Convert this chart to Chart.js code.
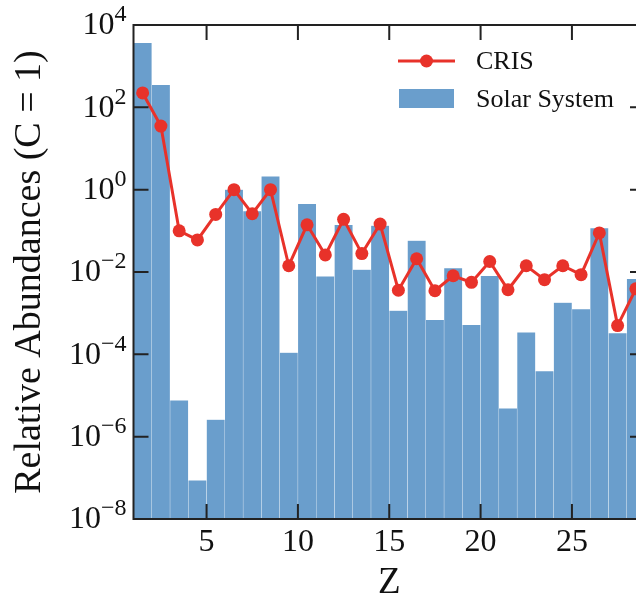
<!DOCTYPE html>
<html>
<head>
<meta charset="utf-8">
<script src="https://cdn.jsdelivr.net/npm/chart.js@4.4.1/dist/chart.umd.min.js"></script>
<style>
    html, body { margin: 0; padding: 0; background: #fff; overflow: hidden; }
    #wrap { width: 660px; height: 598px; }
</style>
</head>
<body>
<div id="wrap"><canvas id="abundChart" width="660" height="598"></canvas></div>
<script>
// atomic number Z of each bin
const charge = [1, 2, 3, 4, 5, 6, 7, 8, 9, 10, 11, 12, 13, 14, 15, 16, 17, 18, 19, 20, 21, 22, 23, 24, 25, 26, 27, 28];
// solar system abundances relative to C
const solar = [3.7e3, 350, 7.6e-6, 8.7e-8, 2.6e-6, 1.0, 0.30, 2.1, 1.1e-4, 0.45,
    7.8e-3, 0.14, 0.0114, 0.135, 1.15e-3, 0.058, 6.9e-4, 0.0125, 5.2e-4, 8.1e-3,
    4.9e-6, 3.4e-4, 3.9e-5, 1.8e-3, 1.26e-3, 0.117, 3.3e-4, 6.8e-3];
// CRIS cosmic ray abundances relative to C
const cris = [224, 35, 0.10, 0.06, 0.25, 1.0, 0.26, 1.0, 0.0142, 0.14,
    0.026, 0.19, 0.028, 0.146, 3.6e-3, 0.021, 3.5e-3, 8.1e-3, 5.6e-3, 0.018,
    3.7e-3, 0.0142, 6.5e-3, 0.0142, 8.6e-3, 0.089, 5.0e-4, 3.9e-3];

const xTicks = [5, 10, 15, 20, 25];
const yTicks = [1e4, 1e2, 1e0, 1e-2, 1e-4, 1e-6, 1e-8];
const yExp = ['4', '2', '0', '\u22122', '\u22124', '\u22126', '\u22128'];

const red = '#e8322a';
const blue = '#6a9ecc';
const serif = '"Liberation Serif", "Times New Roman", serif';

// frame, inward ticks, labels and legend
const decor = {
    id: 'decor',
    afterDraw(chart) {
        const ctx = chart.ctx;
        const a = chart.chartArea;
        const xs = chart.scales.x;
        const ys = chart.scales.y;
        const tl = 15;
        ctx.save();
        ctx.strokeStyle = '#222';
        ctx.lineWidth = 2;
        ctx.beginPath();
        yTicks.forEach(v => {
            const y = ys.getPixelForValue(v);
            ctx.moveTo(a.left, y); ctx.lineTo(a.left + tl, y);
            ctx.moveTo(a.right, y); ctx.lineTo(a.right - tl, y);
        });
        xTicks.forEach(v => {
            const x = xs.getPixelForValue(v);
            ctx.moveTo(x, a.bottom); ctx.lineTo(x, a.bottom - tl);
            ctx.moveTo(x, a.top); ctx.lineTo(x, a.top + tl);
        });
        ctx.stroke();
        ctx.strokeRect(a.left, a.top, a.right - a.left, a.bottom - a.top);

        ctx.fillStyle = '#111';
        // y tick labels 10^n
        yTicks.forEach((v, i) => {
            const y = ys.getPixelForValue(v);
            ctx.font = '24px ' + serif;
            const ew = ctx.measureText(yExp[i]).width;
            const right = a.left - 7;
            ctx.textAlign = 'right';
            ctx.textBaseline = 'middle';
            ctx.fillText(yExp[i], right, y - 10);
            ctx.font = '32px ' + serif;
            ctx.fillText('10', right - ew, y + 1);
        });
        // x tick labels
        ctx.font = '32px ' + serif;
        ctx.textAlign = 'center';
        xTicks.forEach(v => {
            ctx.fillText(String(v), xs.getPixelForValue(v), 543);
        });
        // axis titles
        ctx.font = '37px ' + serif;
        ctx.fillText('Z', (a.left + a.right) / 2, 583);
        ctx.save();
        ctx.translate(30, (a.top + a.bottom) / 2);
        ctx.rotate(-Math.PI / 2);
        ctx.font = '38px ' + serif;
        ctx.fillText('Relative Abundances (C = 1)', 0, 0);
        ctx.restore();

        // legend
        const line = chart.data.datasets[0];
        const bars = chart.data.datasets[1];
        ctx.strokeStyle = line.borderColor;
        ctx.lineWidth = line.borderWidth;
        ctx.beginPath();
        ctx.moveTo(398, 61); ctx.lineTo(455, 61);
        ctx.stroke();
        ctx.fillStyle = line.pointBackgroundColor;
        ctx.beginPath();
        ctx.arc(426.5, 61, line.pointRadius, 0, Math.PI * 2);
        ctx.fill();
        ctx.fillStyle = bars.backgroundColor;
        ctx.fillRect(399, 89, 55, 19);
        ctx.fillStyle = '#111';
        ctx.font = '26px ' + serif;
        ctx.textAlign = 'left';
        ctx.fillText(line.label, 476, 62);
        ctx.fillText(bars.label, 476, 100);
        ctx.restore();
    }
};

new Chart(document.getElementById('abundChart'), {
    type: 'bar',
    data: {
        datasets: [{
            type: 'line',
            label: 'CRIS',
            data: charge.map((z, i) => ({ x: z + 0.5, y: cris[i] })),
            borderColor: red,
            backgroundColor: red,
            pointBackgroundColor: red,
            pointBorderWidth: 0,
            pointRadius: 6.5,
            borderWidth: 3,
            tension: 0,
        }, {
            label: 'Solar System',
            data: charge.map((z, i) => ({ x: z + 0.5, y: solar[i] })),
            backgroundColor: blue,
            borderColor: 'rgba(255, 255, 255, 0.12)',
            borderWidth: { left: 0.5, right: 0.5, top: 0.5 },
            barPercentage: 1,
            categoryPercentage: 1,
        }]
    },
    options: {
        responsive: false,
        animation: false,
        layout: { padding: { top: 25, right: 15, bottom: 0, left: 0 } },
        plugins: {
            legend: { display: false },
            tooltip: { enabled: false }
        },
        scales: {
            x: {
                type: 'linear',
                min: 1,
                max: 29,
                offset: false,
                grid: { display: false },
                border: { display: false },
                ticks: { display: false },
                afterBuildTicks: s => { s.ticks = xTicks.map(v => ({ value: v })); },
                afterFit: s => { s.height = 79; }
            },
            y: {
                type: 'logarithmic',
                min: 1e-8,
                max: 1e4,
                grid: { display: false },
                border: { display: false },
                ticks: { display: false },
                afterBuildTicks: s => { s.ticks = yTicks.map(v => ({ value: v })); },
                afterFit: s => { s.width = 133.5; }
            }
        }
    },
    plugins: [decor]
});
</script>
</body>
</html>
